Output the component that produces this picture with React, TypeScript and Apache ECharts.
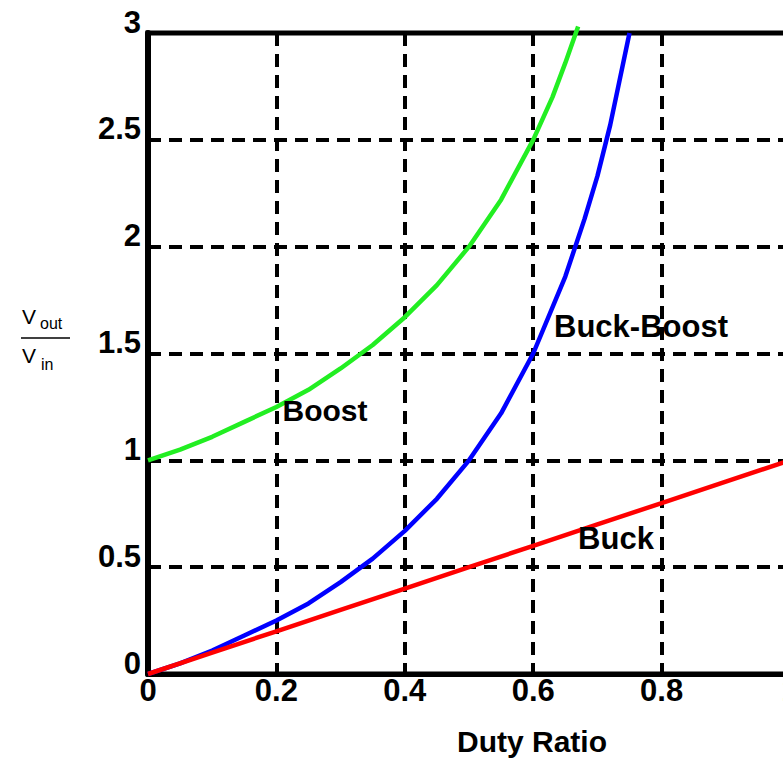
import React, { useEffect, useRef } from "react";
import * as echarts from "echarts";

// Data
const boostDuty = [0, 0.05, 0.1, 0.15, 0.2, 0.25, 0.3, 0.35, 0.4, 0.45, 0.5, 0.55, 0.6, 0.63, 0.65, 0.67];
const boostGain = [1.0, 1.05, 1.11, 1.18, 1.25, 1.33, 1.43, 1.54, 1.67, 1.82, 2.0, 2.22, 2.5, 2.7, 2.86, 3.03];

const buckBoostDuty = [0, 0.05, 0.1, 0.15, 0.2, 0.25, 0.3, 0.35, 0.4, 0.45, 0.5, 0.55, 0.6, 0.65, 0.68, 0.7, 0.72, 0.75];
const buckBoostGain = [0, 0.05, 0.11, 0.18, 0.25, 0.33, 0.43, 0.54, 0.67, 0.82, 1.0, 1.22, 1.5, 1.86, 2.13, 2.33, 2.57, 3.0];

const buckDuty = [0, 0.1, 0.2, 0.3, 0.4, 0.5, 0.6, 0.7, 0.8, 0.9, 1.0];
const buckGain = [0, 0.1, 0.2, 0.3, 0.4, 0.5, 0.6, 0.7, 0.8, 0.9, 1.0];

const seriesNames = ["Buck-Boost", "Buck", "Boost"];
const xAxisTitle = "Duty Ratio";

const FONT = "'Liberation Sans', Arial, Helvetica, sans-serif";

const zip = (xs: number[], ys: number[]) => xs.map((x, i) => [x, ys[i]]);

export default function App() {
  const ref = useRef<HTMLDivElement>(null);

  useEffect(() => {
    if (!ref.current) return;
    const chart = echarts.init(ref.current, undefined, { renderer: "svg" });
    const gridDash = { color: "#000", width: 4, type: [13, 8] as any };
    chart.setOption({
      animation: false,
      backgroundColor: "#fff",
      grid: {
        left: 148,
        top: 33,
        right: -7,
        bottom: 84,
        show: true,
        borderColor: "#000",
        borderWidth: 5,
        backgroundColor: "transparent",
        containLabel: false,
        outerBoundsMode: "none",
      },
      xAxis: {
        type: "value",
        min: 0,
        max: 1,
        interval: 0.2,
        axisLine: { show: true, lineStyle: { color: "#000", width: 5 } },
        axisTick: { show: false },
        splitLine: { show: true, lineStyle: gridDash },
        axisLabel: {
          color: "#000",
          fontFamily: FONT,
          fontWeight: "bold",
          fontSize: 31,
          margin: 1,
          showMaxLabel: true,
          hideOverlap: false,
          formatter: (v: number) => String(Math.round(v * 10) / 10),
        },
      },
      yAxis: {
        type: "value",
        min: 0,
        max: 3,
        interval: 0.5,
        axisLine: { show: true, lineStyle: { color: "#000", width: 6 } },
        axisTick: { show: false },
        splitLine: { show: true, lineStyle: gridDash },
        axisLabel: {
          color: "#000",
          fontFamily: FONT,
          fontWeight: "bold",
          fontSize: 31,
          margin: 7,
          verticalAlign: "bottom",
          lineHeight: 22,
          hideOverlap: false,
          formatter: (v: number) => String(v),
        },
      },
      series: [
        {
          name: seriesNames[0],
          type: "line",
          data: zip(buckBoostDuty, buckBoostGain),
          showSymbol: false,
          symbol: "none",
          clip: false,
          lineStyle: { color: "#0000ff", width: 4.5 },
          itemStyle: { color: "#0000ff" },
          z: 3,
        },
        {
          name: seriesNames[1],
          type: "line",
          data: zip(buckDuty, buckGain),
          showSymbol: false,
          symbol: "none",
          clip: false,
          lineStyle: { color: "#ff0000", width: 4.5 },
          itemStyle: { color: "#ff0000" },
          z: 4,
        },
        {
          name: seriesNames[2],
          type: "line",
          data: zip(boostDuty, boostGain),
          showSymbol: false,
          symbol: "none",
          clip: false,
          lineStyle: { color: "#22ee22", width: 4.5 },
          itemStyle: { color: "#22ee22" },
          z: 5,
        },
      ],
      graphic: [
        {
          type: "text",
          x: 325,
          y: 410,
          z: 10,
          style: { text: "Boost", fill: "#000", font: `bold 30px ${FONT}`, align: "center", verticalAlign: "middle" },
        },
        {
          type: "text",
          x: 641,
          y: 326,
          z: 10,
          style: { text: "Buck-Boost", fill: "#000", font: `bold 31px ${FONT}`, align: "center", verticalAlign: "middle" },
        },
        {
          type: "text",
          x: 616,
          y: 538,
          z: 10,
          style: { text: "Buck", fill: "#000", font: `bold 31px ${FONT}`, align: "center", verticalAlign: "middle" },
        },
        {
          type: "text",
          x: 532,
          y: 741,
          style: { text: xAxisTitle, fill: "#000", font: `bold 30px ${FONT}`, align: "center", verticalAlign: "middle" },
        },
        {
          type: "text",
          x: 22,
          y: 316,
          style: { text: "V", fill: "#000", font: `21px ${FONT}`, align: "left", verticalAlign: "middle" },
        },
        {
          type: "text",
          x: 40,
          y: 323,
          style: { text: "out", fill: "#000", font: `16px ${FONT}`, align: "left", verticalAlign: "middle" },
        },
        {
          type: "line",
          shape: { x1: 21, y1: 338, x2: 70, y2: 338 },
          style: { stroke: "#000", lineWidth: 1.5 },
        },
        {
          type: "text",
          x: 22,
          y: 355,
          style: { text: "V", fill: "#000", font: `21px ${FONT}`, align: "left", verticalAlign: "middle" },
        },
        {
          type: "text",
          x: 41,
          y: 364,
          style: { text: "in", fill: "#000", font: `16px ${FONT}`, align: "left", verticalAlign: "middle" },
        },
      ],
    });
    return () => chart.dispose();
  }, []);

  return (
    <div
      ref={ref}
      style={{ position: "fixed", left: 0, top: 0, width: 783, height: 758, background: "#fff" }}
    />
  );
}
